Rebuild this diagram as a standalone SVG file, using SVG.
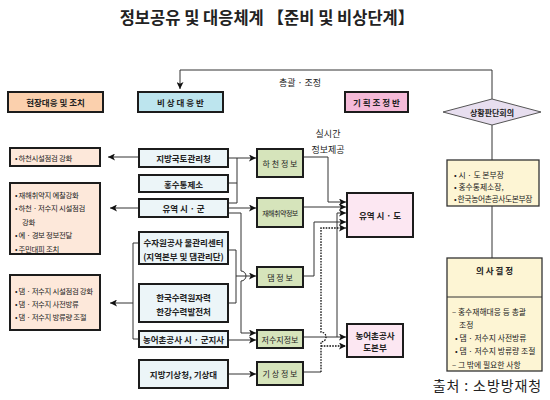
<svg xmlns="http://www.w3.org/2000/svg" width="550" height="400" viewBox="0 0 550 400">
<style>
text{font-family:"Noto Sans CJK KR","Noto Sans",sans-serif;fill:#222}
.t{font-size:8px;text-anchor:middle;dominant-baseline:central}
.tb{font-size:8.5px;font-weight:bold;text-anchor:middle;dominant-baseline:central}
.l{font-size:7.8px;dominant-baseline:central}
.lp{font-size:7.4px;letter-spacing:-0.3px;dominant-baseline:central}
.bx{stroke:#1c1c1c;stroke-width:2}
.bt{stroke:#333;stroke-width:1.3}
.peach{fill:#fde8da}
.hpeach{fill:#fbd0ad}
.blue{fill:#ecf5f8}
.hblue{fill:#bde5ee}
.green{fill:#d6e4bb}
.pink{fill:#fce7f2}
.hpink{fill:#f5bad8}
.yel{fill:#fdf5d4}
.c{stroke:#333;stroke-width:1;fill:none}
.ca{stroke:#333;stroke-width:1;fill:none;marker-end:url(#ah)}
.d{stroke-dasharray:1.6 1.2;stroke:#111;stroke-width:1.3}
.hand{font-size:9px;text-anchor:middle;dominant-baseline:central}
</style>
<defs>
<marker id="ah" viewBox="0 0 8 8" refX="8" refY="4" markerWidth="7" markerHeight="7" orient="auto" markerUnits="userSpaceOnUse"><path d="M0,0 L8,4 L0,8 L2,4 Z" fill="#111"/></marker>
</defs>
<rect width="550" height="400" fill="#fff"/>
<text x="267" y="17" style="font-size:16.5px;font-weight:bold;text-anchor:middle;dominant-baseline:central">정보공유 및 대응체계 【준비 및 비상단계】</text>

<g id="connectors">
<path class="ca" d="M492,99 V70 H180 V89"/>
<path class="ca" d="M139,157 H108"/>
<path class="ca" d="M228,158 H256"/>
<path class="c" d="M237,158 V203 H228 M228,183 H237"/>
<path class="ca" d="M228,208 H256"/>
<path class="ca" d="M228,213 H241 V271 A5,5 0 0 1 241,281 V333 H256"/>
<path class="ca" d="M139,208 H110"/>
<path class="c" d="M228,250 H236 V303 H228"/>
<path class="ca" d="M236,276 H256"/>
<path class="c" d="M139,243 H133 V339 H139"/>
<path class="ca" d="M133,303 H110"/>
<path class="ca" d="M228,340 H256"/>
<path class="ca" d="M228,374 H256"/>
<path class="ca" d="M303,157 H328 V202 H346"/>
<path class="ca" d="M303,207 H346"/>
<path class="ca" d="M303,337 H346"/>
<path class="ca" d="M337,337 V213 H346"/>
<path class="ca" d="M303,276 H314 V222 H346"/>
<path class="c" d="M303,372 H321"/>
<path class="ca d" d="M321,372 V342 A5,5 0 0 0 321,332 V228 H346"/>
<path class="ca d" d="M321,346 H346"/>
<path class="c" d="M492,125 V160 M492,206 V258"/>
<text class="hand" x="300" y="82">총괄 · 조정</text>
<text class="hand" x="328" y="133">실시간</text>
<text class="hand" x="328" y="149">정보제공</text>
</g>

<g id="h-field"><rect class="bx hpeach" x="8" y="92" width="95" height="20"/><text class="tb" x="55.5" y="102">현장대응 및 조치</text></g>
<g id="h-emergency"><rect class="bx hblue" x="138" y="92" width="85" height="20"/><text class="tb" x="180.5" y="102">비 상 대 응 반</text></g>
<g id="h-planning"><rect class="bx hpink" x="345" y="92" width="63" height="20"/><text class="tb" x="376.5" y="102">기 획 조 정 반</text></g>
<g id="n-judge"><polygon points="443,112 492,99 541,112 492,125" fill="#e7deef" stroke="#555" stroke-width="1"/><text class="tb" x="492" y="112" style="font-size:8px">상황판단회의</text></g>

<g id="n-act1"><rect class="bx peach" x="10" y="148" width="90" height="18"/><text class="lp" x="15" y="157">• 하천시설점검 강화</text></g>
<g id="n-act2"><rect class="bx peach" x="10" y="183" width="90" height="71"/>
<text class="lp" x="15" y="194">• 재해취약지 예찰강화</text>
<text class="lp" x="15" y="207.5">• 하천 · 저수지 시설점검</text>
<text class="lp" x="22" y="221">강화</text>
<text class="lp" x="15" y="234.5">• 예 · 경보 정보전달</text>
<text class="lp" x="15" y="248">• 주민대피 조치</text></g>
<g id="n-act3"><rect class="bx peach" x="10" y="275" width="90" height="55"/>
<text class="lp" x="15" y="290">• 댐 · 저수지 시설점검 강화</text>
<text class="lp" x="15" y="303">• 댐 · 저수지 사전방류</text>
<text class="lp" x="15" y="316">• 댐 · 저수지 방류량 조절</text></g>

<g id="n-moleg"><rect class="bx blue" x="139" y="149" width="89" height="18"/><text class="tb" x="183.5" y="158">지방국토관리청</text></g>
<g id="n-flood"><rect class="bx blue" x="139" y="175" width="89" height="17"/><text class="tb" x="183.5" y="183.5">홍수통제소</text></g>
<g id="n-city"><rect class="bx blue" x="139" y="199" width="89" height="18"/><text class="tb" x="183.5" y="208">유역 시 · 군</text></g>
<g id="n-kwater"><rect class="bx blue" x="139" y="232" width="89" height="32"/><text class="tb" x="183.5" y="242">수자원공사 물관리센터</text><text class="tb" x="183.5" y="255.5">(지역본부 및 댐관리단)</text></g>
<g id="n-khnp"><rect class="bx blue" x="139" y="284" width="89" height="38"/><text class="tb" x="183.5" y="297">한국수력원자력</text><text class="tb" x="183.5" y="310.5">한강수력발전처</text></g>
<g id="n-krc"><rect class="bx blue" x="139" y="331" width="89" height="16"/><text class="tb" x="183.5" y="339">농어촌공사 시 · 군지사</text></g>
<g id="n-kma"><rect class="bx blue" x="139" y="360" width="89" height="28"/><text class="tb" x="183.5" y="374">지방기상청, 기상대</text></g>

<g id="i-river"><rect class="bx green" x="257" y="149" width="46" height="28"/><text class="t" x="280" y="163">하 천 정 보</text></g>
<g id="i-vuln"><rect class="bx green" x="257" y="198" width="46" height="29"/><text class="t" x="280" y="212.5" style="font-size:7px;letter-spacing:-0.5px">재해취약정보</text></g>
<g id="i-dam"><rect class="bx green" x="257" y="267" width="46" height="20"/><text class="t" x="280" y="277">댐 정 보</text></g>
<g id="i-res"><rect class="bx green" x="257" y="330" width="46" height="18"/><text class="t" x="280" y="339">저수지정보</text></g>
<g id="i-weather"><rect class="bx green" x="257" y="362" width="46" height="23"/><text class="t" x="280" y="373.5">기 상 정 보</text></g>

<g id="n-province"><rect class="bx pink" x="347" y="193" width="66" height="44"/><text class="tb" x="380" y="215">유역 시 · 도</text></g>
<g id="n-krchq"><rect class="bx pink" x="347" y="324" width="56" height="33"/><text class="tb" x="375" y="334.5">농어촌공사</text><text class="tb" x="375" y="347">도본부</text></g>

<g id="n-members"><rect class="bt yel" x="447" y="160" width="92" height="46"/>
<text class="l" x="454" y="174">• 시 · 도 본부장</text>
<text class="l" x="454" y="186">• 홍수통제소장,</text>
<text class="l" x="454" y="198" style="letter-spacing:-0.4px">• 한국농어촌공사도본부장</text></g>
<g id="n-decision"><rect class="bt yel" x="447" y="258" width="95" height="113"/>
<line x1="447" y1="297" x2="542" y2="297" stroke="#333" stroke-width="1"/>
<text class="tb" x="494.5" y="270">의 사 결 정</text>
<text class="l" x="452" y="311">– 홍수재해대응 등 총괄</text>
<text class="l" x="459" y="324">조정</text>
<text class="l" x="455" y="337.5">• 댐 · 저수지 사전방류</text>
<text class="l" x="455" y="350.5">• 댐 · 저수지 방류량 조절</text>
<text class="l" x="452" y="364">– 그 밖에 필요한 사항</text></g>
<text x="542" y="385" style="font-size:14px;letter-spacing:0.9px;text-anchor:end;dominant-baseline:central">출처 : 소방방재청</text>
</svg>
